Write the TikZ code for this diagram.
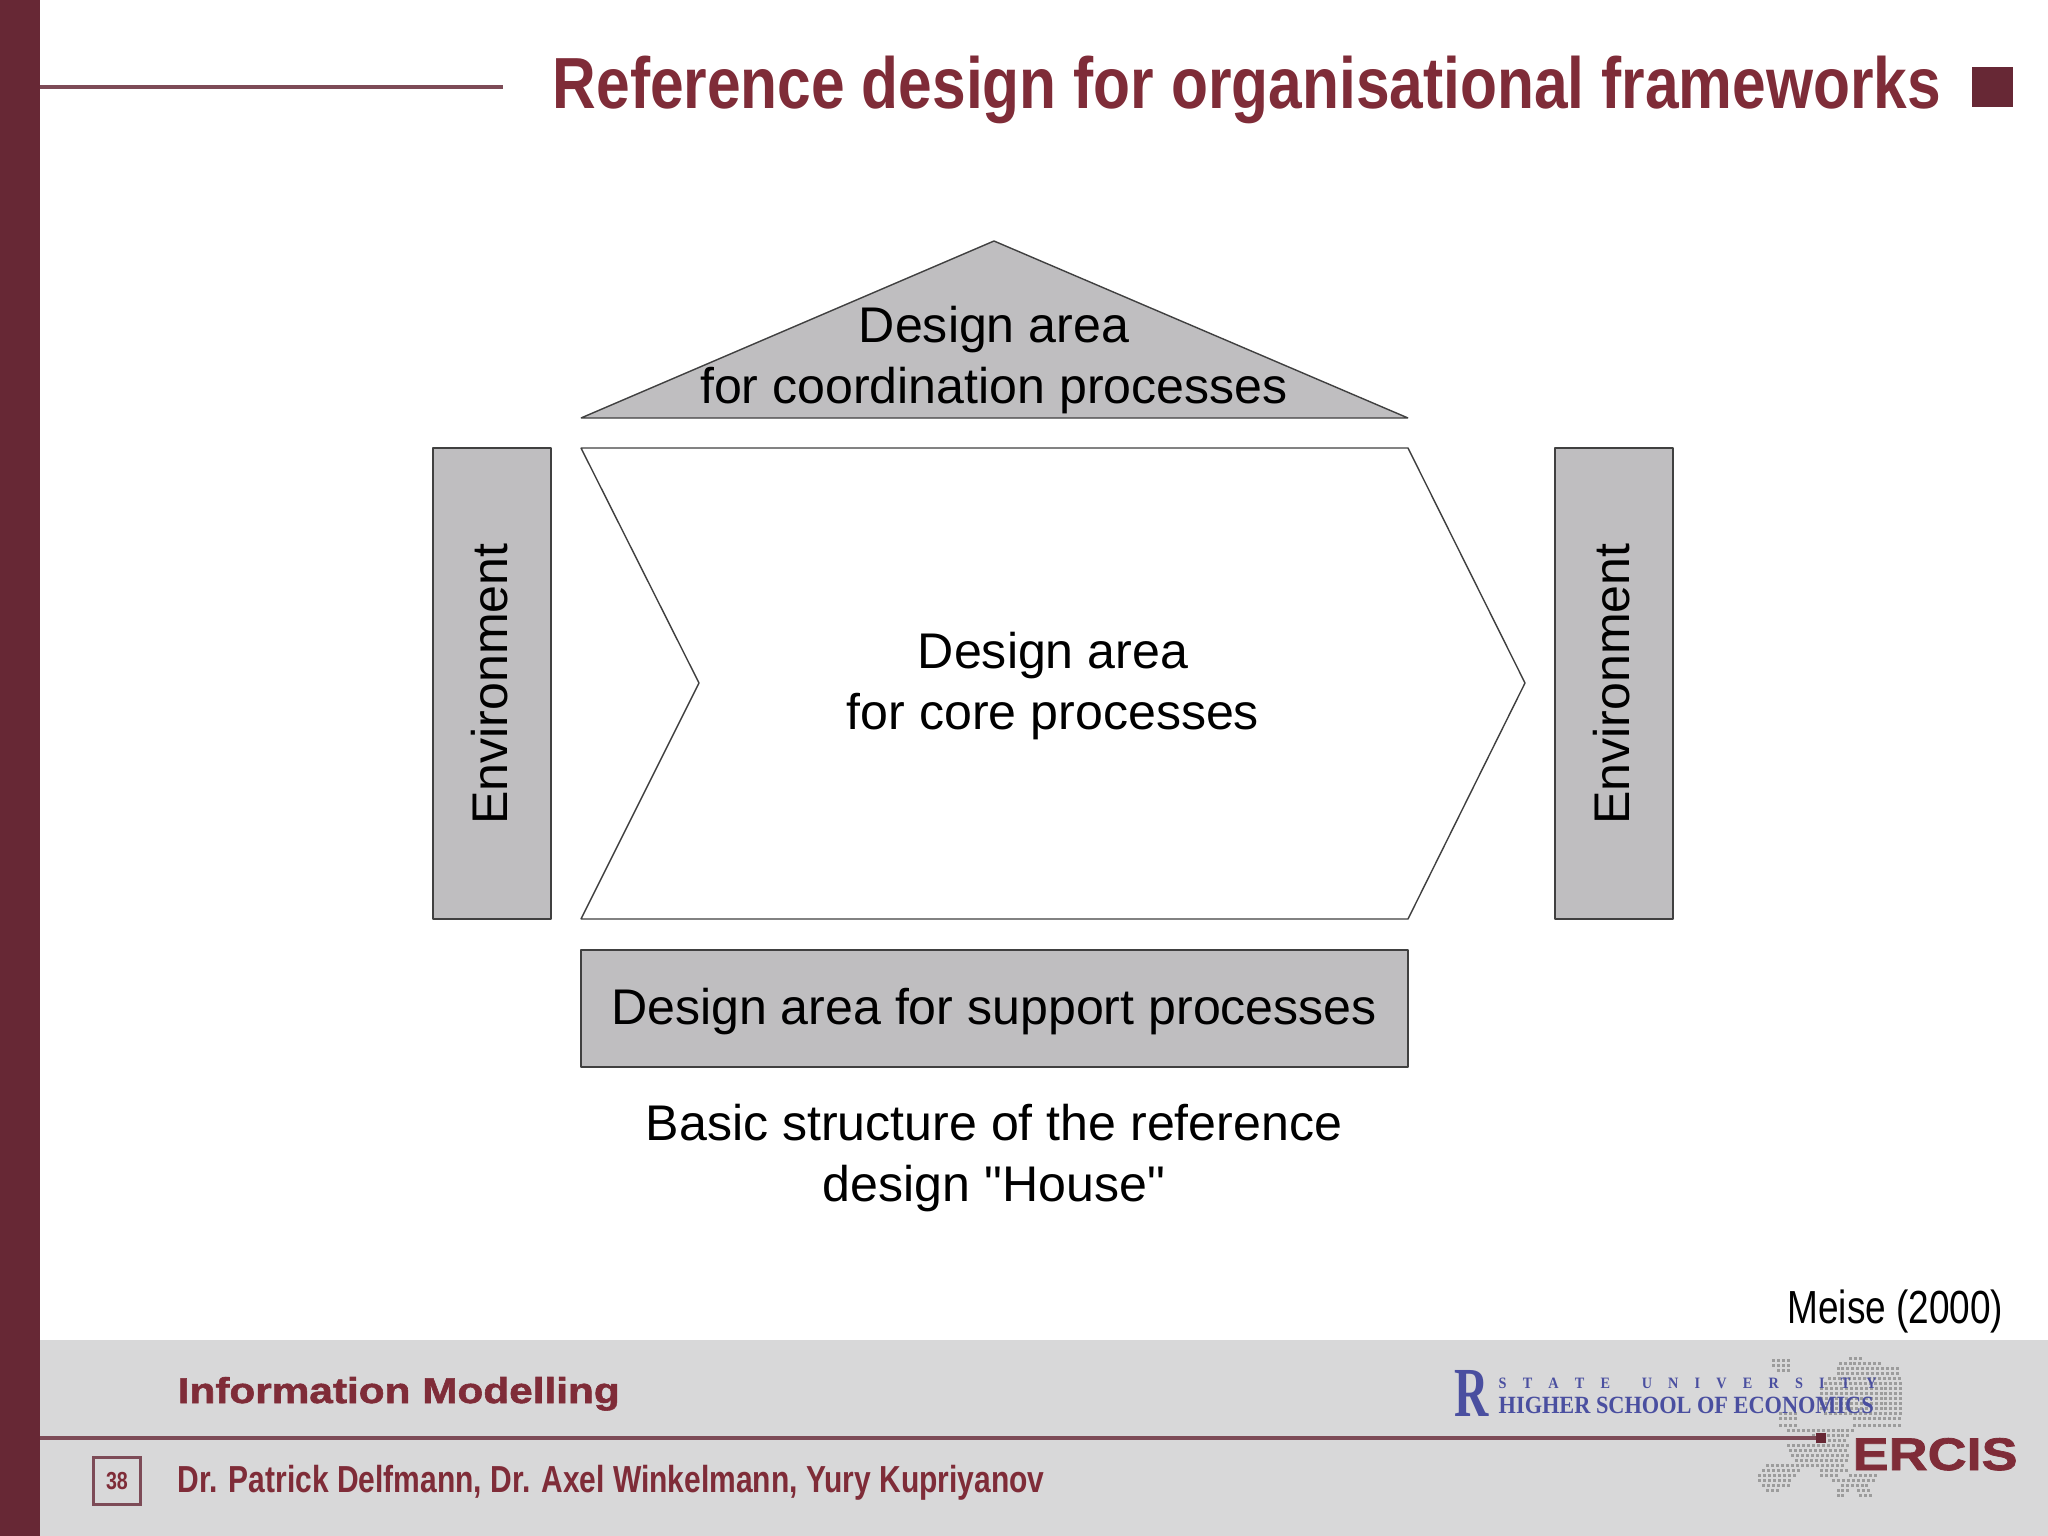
\documentclass[tikz,border=0pt]{standalone}
\usepackage{fontspec}
\setmainfont[Ligatures=TeXOff]{Liberation Sans}
\newfontfamily\titlefont[FakeStretch=0.835]{Liberation Sans}
\newfontfamily\narrowfont[FakeStretch=0.797]{Liberation Sans}
\newfontfamily\widefont[FakeStretch=1.18,FakeBold=1.6]{Liberation Sans}
\newfontfamily\logofont[FakeStretch=0.9]{Liberation Serif}
\definecolor{maroon}{HTML}{672835}
\definecolor{titlered}{HTML}{7F2C38}
\definecolor{ruleline}{HTML}{7D4B57}
\definecolor{footgrey}{HTML}{D8D8D9}
\definecolor{areagrey}{HTML}{BFBEC0}
\definecolor{logoblue}{HTML}{4A4FA0}
\definecolor{mapgrey}{HTML}{9C9C9C}

\begin{document}
\begin{tikzpicture}[x=0.01cm,y=-0.01cm,
    area/.style={draw=black!75,line width=0.4pt,line join=bevel,fill=areagrey},
    areatext/.style={align=center,font=\fontsize{14.25}{17.2}\selectfont,inner sep=0pt,text=black},
    redtext/.style={text=titlered,inner sep=0pt,anchor=base west}]
    \useasboundingbox (0,0) rectangle (2048,1536);

    % Draw footer and side bar
    \fill[footgrey] (40,1340) rectangle (2048,1536);
    \fill[maroon] (0,0) rectangle (40,1536);

    % Draw map of dots
    \foreach \yy/\xa/\xb in {85/1090/1125,100/1065/1170,115/1060/1215,130/1060/1215,145/1040/1215,160/1030/1215,175/1020/1215,190/1020/1215,205/1020/1215,220/1020/1215,235/1020/1215,250/1030/1215,265/1100/1215,285/1100/1215,250/920/960,265/920/960,285/920/960,300/940/1100,315/1000/1090,330/1040/1085,345/940/1085,360/945/1085,375/950/1085,390/960/1085,405/890/1080,420/880/970,420/1020/1090,435/870/960,435/1020/1060,435/1090/1150,450/870/950,450/1050/1150,465/880/945,465/1070/1130,480/890/920,480/1060/1090,480/1110/1145,495/1060/1080,495/1115/1140,90/905/950,105/905/950,120/915/945} {
        \pgfmathtruncatemacro{\xnext}{\xa+12}
        \foreach \xx in {\xa,\xnext,...,\xb}
            \fill[mapgrey] (1400+\xx/2.42-1.5,1330+\yy/3-1.5) rectangle ++(3,3);
    }

    % Draw rules and squares
    \draw[ruleline,line width=1pt] (40,87) -- (503,87);
    \draw[ruleline,line width=1.3pt] (40,1438) -- (1820,1438);
    \fill[maroon] (1816,1433) rectangle (1826,1443);
    \fill[maroon] (1972,67) rectangle (2013,107);

    % Draw title
    \node[redtext,font=\titlefont\bfseries\fontsize{20.6}{24}\selectfont] (title) at (552,108) {Reference design for organisational frameworks};

    % Draw house
    \draw[area] (994,241) -- (1408,418) -- (581,418) -- cycle;
    \draw[area,fill=white] (581,448) -- (1408,448) -- (1525,683) -- (1408,919) -- (581,919) -- (699,683) -- cycle;
    \draw[area] (433,448) rectangle (551,919);
    \draw[area] (1555,448) rectangle (1673,919);
    \draw[area] (581,950) rectangle (1408,1067);

    % Label the areas
    \node[areatext] (coordination) at (994,360) {Design area\\for coordination processes};
    \node[areatext] (core) at (1053,686) {Design area\\for core processes};
    \node[areatext,rotate=90] (envleft) at (490,684) {Environment};
    \node[areatext,rotate=90] (envright) at (1612,684) {Environment};
    \node[areatext] (support) at (994,1012) {Design area for support processes};
    \node[areatext] (caption) at (994,1158) {Basic structure of the reference\\design "House"};
    \node[anchor=base east,inner sep=0pt,font=\narrowfont\fontsize{13.2}{15}\selectfont] (source) at (2004,1323) {Meise (2000)};

    % Draw footer text
    \node[redtext,font=\widefont\bfseries\fontsize{10.2}{13}\selectfont] (course) at (177,1403) {Information Modelling};
    \node[redtext,font=\narrowfont\bfseries\fontsize{10.7}{13}\selectfont] (authors) at (177,1492) {Dr. Patrick Delfmann, Dr. Axel Winkelmann, Yury Kupriyanov};
    \node[draw=ruleline,line width=1pt,minimum width=0.47cm,minimum height=0.47cm,inner sep=0pt,text=titlered,font=\narrowfont\bfseries\fontsize{7}{8}\selectfont] (page) at (117,1481) {38};

    % Draw logos
    \node[inner sep=0pt,anchor=base west,xscale=0.75,text=logoblue,font=\logofont\bfseries\fontsize{20}{22}\selectfont] (logomark) at (1454,1416) {R};
    \node[inner sep=0pt,anchor=base west,text=logoblue,font=\logofont\bfseries\fontsize{4.5}{6}\selectfont] (stateuni) at (1498,1388) {S\hspace{4.6pt}T\hspace{4.6pt}A\hspace{4.6pt}T\hspace{4.6pt}E\hspace{9pt}U\hspace{4.6pt}N\hspace{4.6pt}I\hspace{4.6pt}V\hspace{4.6pt}E\hspace{4.6pt}R\hspace{4.6pt}S\hspace{4.6pt}I\hspace{4.6pt}T\hspace{4.6pt}Y};
    \node[inner sep=0pt,anchor=base west,text=logoblue,font=\logofont\bfseries\fontsize{7.05}{9}\selectfont] (school) at (1498,1413) {HIGHER SCHOOL OF ECONOMICS};
    \node[inner sep=0pt,anchor=base west,text=titlered,font=\widefont\bfseries\fontsize{13}{15}\selectfont] (ercis) at (1852,1470) {ERCIS};
\end{tikzpicture}
\end{document}
